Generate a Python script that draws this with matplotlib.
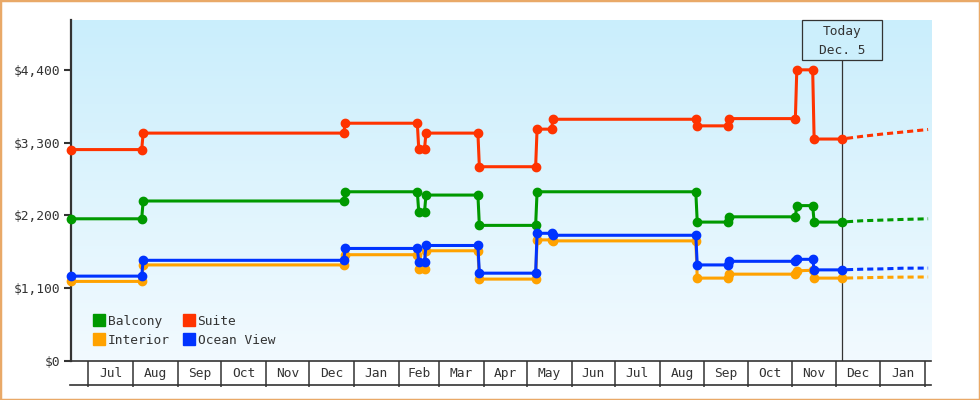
import numpy as np
import pandas as pd
import matplotlib
matplotlib.use('Agg')
import matplotlib.pyplot as plt
from matplotlib.lines import Line2D
from matplotlib.patches import Rectangle
from matplotlib.colors import LinearSegmentedColormap

plt.rcParams['font.family'] = ['DejaVu Sans Mono']
plt.rcParams['font.size'] = 9.3

# price history: old price on the day before a change, new price on the change day
dates = ['2022-06-19', '2022-08-07', '2022-08-08', '2022-12-25', '2022-12-26',
         '2023-02-14', '2023-02-15', '2023-02-19', '2023-02-20', '2023-03-28', '2023-03-29',
         '2023-05-07', '2023-05-08', '2023-05-18', '2023-05-19', '2023-08-26', '2023-08-27',
         '2023-09-17', '2023-09-18', '2023-11-03', '2023-11-04', '2023-11-15', '2023-11-16',
         '2023-12-05']
balcony_dates = [d for d in dates if d not in ('2023-05-18', '2023-05-19')]

suite = [3200, 3200, 3450, 3450, 3600, 3600, 3210, 3210, 3450, 3450, 2940, 2940,
         3510, 3510, 3660, 3660, 3560, 3560, 3670, 3670, 4410, 4410, 3360, 3360]
balcony = [2150, 2150, 2420, 2420, 2560, 2560, 2255, 2255, 2510, 2510, 2050, 2050,
           2560, 2560, 2100, 2100, 2180, 2180, 2350, 2350, 2100, 2100]
ocean_view = [1280, 1280, 1520, 1520, 1700, 1700, 1500, 1500, 1745, 1745, 1325, 1325,
              1930, 1930, 1900, 1900, 1450, 1450, 1505, 1505, 1535, 1535, 1375, 1375]
interior = [1200, 1200, 1450, 1450, 1605, 1605, 1390, 1390, 1665, 1665, 1235, 1235,
            1830, 1830, 1815, 1815, 1250, 1250, 1310, 1310, 1360, 1370, 1250, 1250]

# projected prices after today
proj_dates = ['2023-12-05', '2023-12-19', '2024-01-02', '2024-01-16', '2024-02-03']
suite_proj = [3360, 3400, 3435, 3465, 3505]
balcony_proj = [2100, 2120, 2130, 2140, 2150]
ocean_view_proj = [1375, 1385, 1390, 1400, 1402]
interior_proj = [1250, 1255, 1262, 1265, 1267]

today = '2023-12-05'
yticks = [0, 1100, 2200, 3300, 4400]

colors = {'Balcony': '#009900', 'Suite': '#FF3300', 'Interior': '#FFA200', 'Ocean View': '#0033FF'}
series = [
    ('Balcony', balcony_dates, balcony, balcony_proj),
    ('Suite', dates, suite, suite_proj),
    ('Interior', dates, interior, interior_proj),
    ('Ocean View', dates, ocean_view, ocean_view_proj),
]

dark = '#333333'
fig = plt.figure(figsize=(9.8, 4), dpi=100)
ax = fig.add_axes([71 / 980, 39.5 / 400, 860 / 980, 340.5 / 400])

for i, (name, d, v, p) in enumerate(series):
    c = colors[name]
    ax.plot(pd.to_datetime(d), v, color=c, lw=2.2, marker='o', ms=6, zorder=3 + i,
            clip_on=False, solid_joinstyle='miter')
    ax.plot(pd.to_datetime(proj_dates), p, color=c, lw=2.2, ls=(1.5, (2.0, 1.3)), zorder=3 + i)

# background gradient
cmap = LinearSegmentedColormap.from_list('bg', ['#F2FAFF', '#CAEEFC'])
ax.imshow(np.linspace(0, 1, 256).reshape(-1, 1), cmap=cmap, origin='lower', aspect='auto',
          extent=[0, 1, 0, 1], transform=ax.transAxes, zorder=0)

ax.set_xlim(pd.Timestamp('2022-06-19'), pd.Timestamp('2024-02-05'))
ax.set_ylim(0, 5166)

# today marker
ax.axvline(pd.Timestamp(today), ymin=0, ymax=(360.5 - 60) / 340.5, color=dark, lw=0.9, zorder=2)
fig.add_artist(Rectangle((802.3 / 980, (400 - 60.3) / 400), 80 / 980, 40.3 / 400,
                         transform=fig.transFigure, facecolor='#CCEFFC', edgecolor=dark, lw=0.9))
fig.text(842.3 / 980, 1 - 41 / 400, 'Today\nDec. 5', ha='center', va='center',
         color=dark, linespacing=1.5)

# y axis
ax.set_yticks(yticks)
ax.set_yticklabels(['$' + format(t, ',') for t in yticks], color=dark)
ax.tick_params(axis='y', length=5, width=1.5, color=dark, pad=2.5)

# x axis: month bands
month_starts = pd.date_range('2022-07-01', '2024-02-01', freq='MS')
mids = month_starts[:-1] + (month_starts[1:] - month_starts[:-1]) / 2
month_labels = [m.strftime('%b') for m in month_starts[:-1]]
ax.set_xticks(month_starts)
ax.set_xticklabels([])
ax.set_xticks(mids, minor=True)
ax.set_xticklabels(month_labels, minor=True, color=dark)
ax.tick_params(axis='x', which='major', length=18.5, width=1.1, color=dark)
ax.tick_params(axis='x', which='minor', length=0, pad=4.5)

for s in ['top', 'right']:
    ax.spines[s].set_visible(False)
ax.spines['left'].set_linewidth(1.6)
ax.spines['left'].set_color(dark)
ax.spines['bottom'].set_linewidth(1.2)
ax.spines['bottom'].set_color(dark)
fig.add_artist(Line2D([70 / 980, 931 / 980], [15 / 400, 15 / 400], transform=fig.transFigure,
                      color=dark, lw=1.2))

# legend
handles = [Line2D([], [], marker='s', ls='none', color=colors[n], markersize=8)
           for n in ['Balcony', 'Interior', 'Suite', 'Ocean View']]
ax.legend(handles, ['Balcony', 'Interior', 'Suite', 'Ocean View'], ncol=2, frameon=False,
          loc='lower left', bbox_to_anchor=(22 / 860, 13.5 / 340.5), borderaxespad=0,
          borderpad=0, handlelength=1.0, handletextpad=0.15, columnspacing=1.0,
          labelspacing=0.5, labelcolor=dark)

# outer border
fig.add_artist(Rectangle((0, 0), 1, 1, transform=fig.transFigure, fill=False,
                         edgecolor='#E9A968', lw=2.5))

plt.savefig('out.png', dpi=100)
